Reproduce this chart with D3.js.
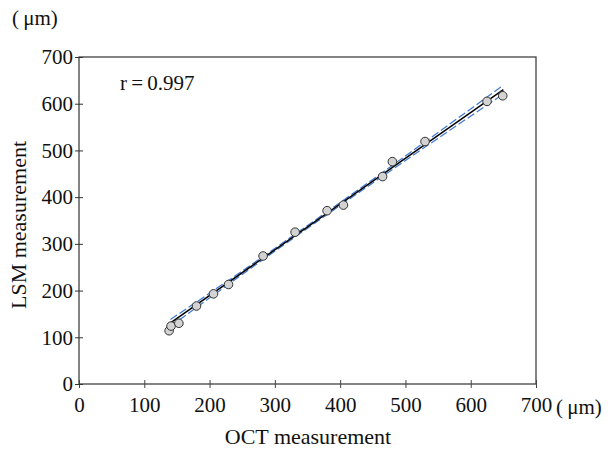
<!DOCTYPE html>
<html>
<head>
<meta charset="utf-8">
<script src="https://cdn.jsdelivr.net/npm/d3@7"></script>
<style>
  body { margin: 0; background: #fff; }
  svg text { font-family: "Liberation Serif", "DejaVu Serif", serif; fill: #111; }
</style>
</head>
<body>
<svg width="616" height="451"></svg>
<script>
"use strict"

let octValues = [138, 141, 153, 180, 206, 229, 282, 331, 380, 405, 465, 480, 530, 625, 649]
let lsmValues = [114, 124, 130, 167, 193, 213, 274, 325, 371, 383, 444, 476, 519, 605, 617]

// regression line end points
let fitX = [138, 650]
let fitY = [128.5, 630.3]

// confidence band (blue dashed), read at a few x positions
let bandX = [140, 250, 340, 450, 550, 650]
let bandUpper = [138, 242, 329.5, 438, 538.5, 639.5]
let bandLower = [123, 234.5, 323.5, 430.5, 526, 621]

let axisTicks = [0, 100, 200, 300, 400, 500, 600, 700]

let svg = d3.select("svg")

let x = d3.scaleLinear().domain([0, 700]).range([79, 536])
let y = d3.scaleLinear().domain([0, 700]).range([384, 57])

/* frame */
svg.append("rect")
  .attr("x", x(0)).attr("y", y(700))
  .attr("width", x(700) - x(0)).attr("height", y(0) - y(700))
  .attr("fill", "none")
  .attr("stroke", "#333")
  .attr("stroke-width", 1.2)

/* axes, ticks cross the line */
let xAxis = svg.append("g")
  .attr("transform", "translate(0," + y(0) + ")")
  .call(d3.axisBottom(x).tickValues(axisTicks).tickSize(4).tickPadding(9))
xAxis.select(".domain").remove()
xAxis.selectAll(".tick line").attr("y1", -4).attr("stroke", "#444")
xAxis.selectAll(".tick text").attr("font-size", 21).attr("fill", "#111")

let yAxis = svg.append("g")
  .attr("transform", "translate(" + x(0) + ",0)")
  .call(d3.axisLeft(y).tickValues(axisTicks).tickSize(4).tickPadding(2))
yAxis.select(".domain").remove()
yAxis.selectAll(".tick line").attr("x1", 4).attr("stroke", "#333")
yAxis.selectAll(".tick text").attr("font-size", 21).attr("fill", "#111")

/* confidence band */
let bandLine = d3.line()
  .x((d, i) => x(bandX[i]))
  .y(d => y(d))
  .curve(d3.curveMonotoneX)

svg.append("g").selectAll("path")
  .data([bandUpper, bandLower])
  .enter().append("path")
  .attr("d", bandLine)
  .attr("fill", "none")
  .attr("stroke", "#3f78d0")
  .attr("stroke-width", 1.2)
  .attr("stroke-dasharray", "8,3")

/* regression line */
svg.append("line")
  .attr("x1", x(fitX[0])).attr("y1", y(fitY[0]))
  .attr("x2", x(fitX[1])).attr("y2", y(fitY[1]))
  .attr("stroke", "#000")
  .attr("stroke-width", 1.5)

/* points */
svg.append("g").selectAll("circle")
  .data(octValues)
  .enter().append("circle")
  .attr("cx", d => x(d))
  .attr("cy", (d, i) => y(lsmValues[i]))
  .attr("r", 4.3)
  .attr("fill", "#d3d3d3")
  .attr("stroke", "#333")
  .attr("stroke-width", 1)

/* labels */
svg.append("text")
  .attr("x", 12).attr("y", 25)
  .attr("font-size", 21)
  .text("(\u2009\u03bcm)")

svg.append("text")
  .attr("x", x(700) + 20).attr("y", 414)
  .attr("font-size", 21)
  .text("(\u2009\u03bcm)")

svg.append("text")
  .attr("x", 120).attr("y", 90)
  .attr("font-size", 21)
  .text("r\u2009=\u20090.997")

svg.append("text")
  .attr("x", 308).attr("y", 444)
  .attr("text-anchor", "middle")
  .attr("font-size", 22)
  .text("OCT measurement")

svg.append("text")
  .attr("transform", "translate(26,225) rotate(-90)")
  .attr("text-anchor", "middle")
  .attr("font-size", 22)
  .text("LSM measurement")
</script>
</body>
</html>
